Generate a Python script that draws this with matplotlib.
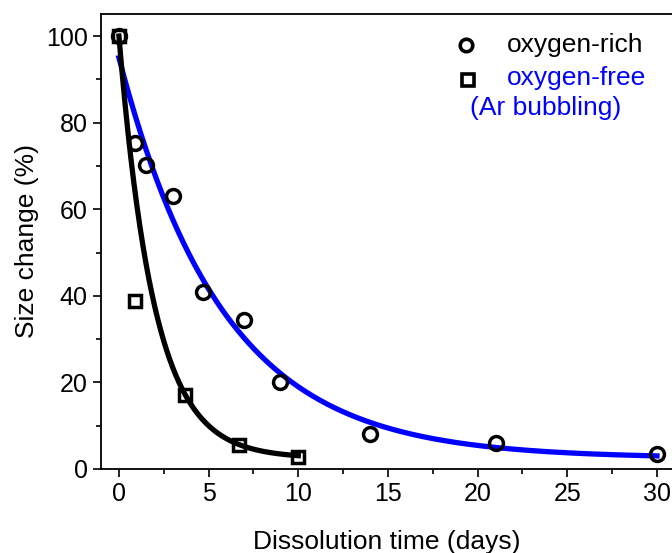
import numpy as np
import matplotlib
matplotlib.use("Agg")
import matplotlib.pyplot as plt

plt.rcParams['font.family'] = ['Liberation Sans', 'DejaVu Sans']

# measured points
rich_days = [0, 0.9, 1.5, 3.0, 4.7, 7.0, 9.0, 14.0, 21.0, 30.0]
rich_size = [100, 75.3, 70.2, 63.0, 40.9, 34.4, 20.1, 8.1, 6.0, 3.5]
free_days = [0, 0.9, 3.7, 6.7, 10.0]
free_size = [100, 38.8, 17.1, 5.5, 2.8]

# exponential decay fits y = y0 + A*exp(-t/tau), parameters
rich_fit = dict(y0=2.5, A=92.5, tau=5.8, t_end=30.0)
free_fit = dict(y0=2.5, A=97.5, tau=1.95, t_end=10.0)


def decay_curve(p):
    t = np.linspace(0, p['t_end'], 300)
    return t, p['y0'] + p['A'] * np.exp(-t / p['tau'])


fig = plt.figure(figsize=(6.72, 5.53), dpi=100)
ax = fig.add_axes([101 / 672, 84 / 553, 1 - 101 / 672, 455 / 553])

t, y = decay_curve(rich_fit)
ax.plot(t, y, color='#0000ff', lw=3.8, zorder=2)
t, y = decay_curve(free_fit)
ax.plot(t, y, color='black', lw=3.8, zorder=2)

ax.plot(rich_days, rich_size, 'o', ms=10, mfc='none', mec='black', mew=2.5, zorder=3)
ax.plot(free_days, free_size, 's', ms=9, mfc='none', mec='black', mew=2.5, zorder=3)

ax.set_xlim(-1, 30.84)
ax.set_ylim(0, 105.1)
ax.set_xticks([0, 5, 10, 15, 20, 25, 30])
ax.set_xticks(np.arange(2.5, 31, 5), minor=True)
ax.set_yticks([0, 20, 40, 60, 80, 100])
ax.set_yticks(np.arange(10, 101, 20), minor=True)
ax.tick_params(which='major', direction='out', length=6, width=1.2, labelsize=18)
ax.tick_params(which='minor', direction='out', length=3.5, width=1.2)
ax.spines['right'].set_visible(False)
for s in ['left', 'bottom', 'top']:
    ax.spines[s].set_linewidth(1.3)

ax.set_xlabel('Dissolution time (days)', fontsize=19, labelpad=17)
ax.set_ylabel('Size change (%)', fontsize=19, labelpad=5)

# legend drawn by hand
tr = ax.transAxes
ax.plot([0.640], [0.932], 'o', ms=9, mfc='none', mec='black', mew=2.6, transform=tr, clip_on=False)
ax.plot([0.642], [0.856], 's', ms=8, mfc='none', mec='black', mew=2.6, transform=tr, clip_on=False)
ax.text(0.711, 0.932, 'oxygen-rich', transform=tr, fontsize=19, va='center', color='black')
ax.text(0.711, 0.859, 'oxygen-free', transform=tr, fontsize=19, va='center', color='#0000ff')
ax.text(0.647, 0.793, '(Ar bubbling)', transform=tr, fontsize=19, va='center', color='#0000ff')

fig.savefig('out.png', dpi=100)
